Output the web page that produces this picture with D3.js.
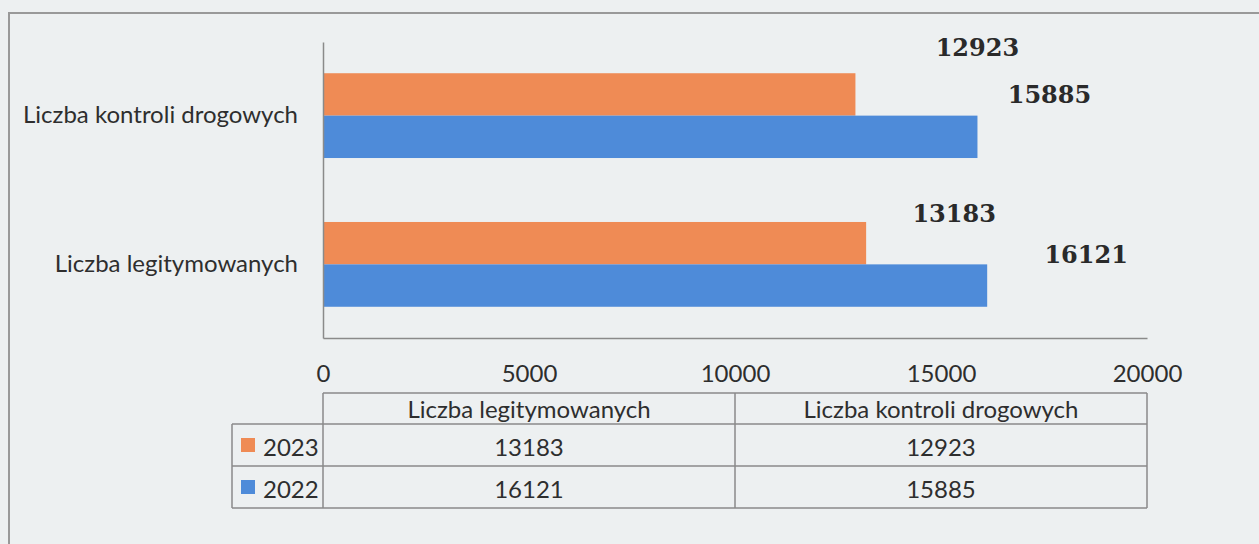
<!DOCTYPE html>
<html>
<head>
<meta charset="utf-8">
<script src="https://cdn.jsdelivr.net/npm/d3@7"></script>
<style>
  html, body { margin: 0; padding: 0; background: #edf0f1; }
  svg { display: block; }
  .cat text, .tick text { font-family: Lato, "Open Sans", sans-serif; }
</style>
</head>
<body>
<svg id="chart" width="1259" height="544"></svg>
<script>
// ---- data ----
var categories = ['Liczba kontroli drogowych', 'Liczba legitymowanych'];
var years      = ['2023', '2022'];
var values2023 = [12923, 13183];
var values2022 = [15885, 16121];
var xTicks     = [0, 5000, 10000, 15000, 20000];
var tableCols  = ['Liczba legitymowanych', 'Liczba kontroli drogowych'];

var colors = { '2023': '#ef8b55', '2022': '#4e8bd9' };
// labels were dragged by hand in the original, keep the nudge per bar
var labelShift = {
    '2023': [[122, -47], [88, -30]],
    '2022': [[72, -42],  [99, -31]]
};

var seriesVals = { '2023': values2023, '2022': values2022 };

var svg = d3.select('#chart');
var FONT = 'Lato, "Open Sans", sans-serif';
var TXT = '#2e2e2e';
var LINE = '#8a8a8a';

// outer frame (only top and left visible on the scan)
svg.append('path')
    .attr('d', 'M9,544 V13 H1259')
    .attr('fill', 'none')
    .attr('stroke', '#999')
    .attr('stroke-width', 2);

var x = d3.scaleLinear().domain([0, 20000]).range([323, 1147]);
var y = d3.scaleBand().domain(categories).range([42, 338])
    .paddingInner(0.43).paddingOuter(0.21);
var yInner = d3.scaleBand().domain(years).range([0, y.bandwidth()]);

// bars
var rows = [];
categories.forEach(function(c, i) {
    years.forEach(function(yr) {
        rows.push({ cat: c, idx: i, year: yr, value: seriesVals[yr][i] });
    });
});

svg.append('g').selectAll('rect')
    .data(rows)
    .enter().append('rect')
    .attr('x', x(0))
    .attr('y', function(d) { return y(d.cat) + yInner(d.year); })
    .attr('width', function(d) { return x(d.value) - x(0); })
    .attr('height', yInner.bandwidth())
    .attr('fill', function(d) { return colors[d.year]; });

// value labels
svg.append('g').selectAll('text')
    .data(rows)
    .enter().append('text')
    .attr('x', function(d) { return x(d.value) + labelShift[d.year][d.idx][0]; })
    .attr('y', function(d) { return y(d.cat) + yInner(d.year) + yInner.bandwidth() / 2 + labelShift[d.year][d.idx][1]; })
    .attr('text-anchor', 'middle')
    .attr('dominant-baseline', 'central')
    .attr('font-family', '"DejaVu Serif", serif')
    .attr('font-weight', 'bold')
    .attr('font-size', '24px')
    .attr('fill', '#2a2a2a')
    .text(function(d) { return d.value; });

// axes
var gy = svg.append('g')
    .attr('class', 'cat')
    .attr('transform', 'translate(' + x(0) + ',0)')
    .call(d3.axisLeft(y).tickSize(0).tickPadding(25));
gy.select('.domain').attr('stroke', LINE).attr('stroke-width', 1.5);
gy.selectAll('text').attr('font-size', '24px').attr('fill', TXT);

var gx = svg.append('g')
    .attr('transform', 'translate(0,338)')
    .call(d3.axisBottom(x).tickValues(xTicks).tickSize(0).tickPadding(27).tickFormat(d3.format('d')));
gx.select('.domain').attr('stroke', LINE).attr('stroke-width', 1.5);
gx.selectAll('text').attr('font-size', '24px').attr('fill', TXT);

// data table below the axis
var rowY = [393, 424, 466, 508];
var legendLeft = 232;
var colEdges = [x(0), x(10000), x(20000)];
var tbl = svg.append('g').attr('stroke', LINE).attr('stroke-width', 1.5);

tbl.append('line').attr('x1', colEdges[0]).attr('x2', colEdges[2]).attr('y1', rowY[0]).attr('y2', rowY[0]);
rowY.slice(1).forEach(function(ry) {
    tbl.append('line').attr('x1', legendLeft).attr('x2', colEdges[2]).attr('y1', ry).attr('y2', ry);
});
tbl.append('line').attr('x1', legendLeft).attr('x2', legendLeft).attr('y1', rowY[1]).attr('y2', rowY[3]);
colEdges.forEach(function(cx) {
    tbl.append('line').attr('x1', cx).attr('x2', cx).attr('y1', rowY[0]).attr('y2', rowY[3]);
});

var tt = svg.append('g')
    .attr('font-family', FONT)
    .attr('font-size', '24px')
    .attr('fill', TXT);

// header row; table columns are in the reverse category order
tableCols.forEach(function(name, j) {
    tt.append('text')
        .attr('x', (colEdges[j] + colEdges[j + 1]) / 2)
        .attr('y', (rowY[0] + rowY[1]) / 2)
        .attr('text-anchor', 'middle')
        .attr('dominant-baseline', 'central')
        .text(name);
});

years.forEach(function(yr, r) {
    var cy = (rowY[r + 1] + rowY[r + 2]) / 2;
    tt.append('rect')
        .attr('x', legendLeft + 9)
        .attr('y', cy - 7)
        .attr('width', 14)
        .attr('height', 14)
        .attr('fill', colors[yr]);
    tt.append('text')
        .attr('x', legendLeft + 31)
        .attr('y', cy + 1)
        .attr('dominant-baseline', 'central')
        .text(yr);
    tableCols.forEach(function(name, j) {
        var ci = categories.indexOf(name);
        tt.append('text')
            .attr('x', (colEdges[j] + colEdges[j + 1]) / 2)
            .attr('y', cy + 1)
            .attr('text-anchor', 'middle')
            .attr('dominant-baseline', 'central')
            .text(seriesVals[yr][ci]);
    });
});
</script>
</body>
</html>
